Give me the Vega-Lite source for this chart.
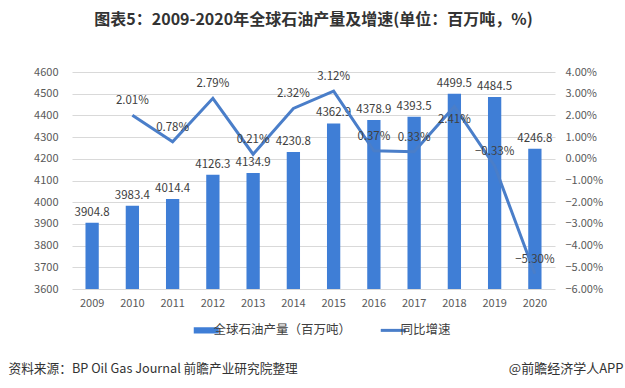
{
  "$schema": "https://vega.github.io/schema/vega-lite/v6.json",
  "width": 483,
  "height": 217,
  "autosize": {"type": "none"},
  "padding": {"left": 72, "top": 72, "right": 70, "bottom": 99},
  "background": "white",
  "title": {
    "text": "图表5：2009-2020年全球石油产量及增速(单位：百万吨，%)",
    "fontSize": 16,
    "fontWeight": "bold",
    "color": "#333333",
    "anchor": "middle",
    "frame": "group",
    "dx": 0,
    "baseline": "middle",
    "offset": 30,
    "font": "Noto Sans CJK SC"
  },
  "config": {
    "view": {"stroke": null},
    "font": "Noto Sans CJK SC",
    "axis": {"labelColor": "#595959", "labelFontSize": 11, "ticks": false, "domain": false}
  },
  "data": {
    "values": [
      {"year": "2009", "production": 3904.8, "growth": null},
      {"year": "2010", "production": 3983.4, "growth": 0.0201},
      {"year": "2011", "production": 4014.4, "growth": 0.0078},
      {"year": "2012", "production": 4126.3, "growth": 0.0279},
      {"year": "2013", "production": 4134.9, "growth": 0.0021},
      {"year": "2014", "production": 4230.8, "growth": 0.0232},
      {"year": "2015", "production": 4362.9, "growth": 0.0312},
      {"year": "2016", "production": 4378.9, "growth": 0.0037},
      {"year": "2017", "production": 4393.5, "growth": 0.0033},
      {"year": "2018", "production": 4499.5, "growth": 0.0241},
      {"year": "2019", "production": 4484.5, "growth": -0.0033},
      {"year": "2020", "production": 4246.8, "growth": -0.053}
    ]
  },
  "encoding": {
    "x": {
      "field": "year",
      "type": "ordinal",
      "scale": {"paddingInner": 0.67, "paddingOuter": 0.335},
      "axis": {"title": null, "labelAngle": 0, "labelPadding": 8, "labelFontSize": 11}
    }
  },
  "layer": [
    {
      "encoding": {
        "y": {
          "field": "production",
          "type": "quantitative",
          "scale": {"domain": [3600, 4600], "nice": false, "zero": false},
          "axis": {
            "orient": "left",
            "format": "d",
            "values": [3600, 3700, 3800, 3900, 4000, 4100, 4200, 4300, 4400, 4500, 4600],
            "grid": true,
            "gridColor": "#d9d9d9",
            "labelPadding": 14,
            "title": "资料来源：BP Oil Gas Journal 前瞻产业研究院整理",
            "titleAngle": 0,
            "titleAlign": "left",
            "titleBaseline": "middle",
            "titleX": -64,
            "titleY": 296,
            "titleFontSize": 12.7,
            "titleFontWeight": "normal",
            "titleColor": "#333333"
          }
        }
      },
      "layer": [
        {
          "mark": {"type": "bar", "color": "#3F7ED6"},
          "encoding": {
            "y2": {"datum": 3600},
            "color": {
              "datum": "全球石油产量（百万吨）",
              "scale": {"domain": ["全球石油产量（百万吨）", "同比增速"], "range": ["#3F7ED6", "#4A7EC9"]},
              "legend": {
                "orient": "none",
                "legendX": 128,
                "legendY": 252,
                "direction": "horizontal",
                "title": null,
                "labelFontSize": 12.5,
                "labelColor": "#404040",
                "columnPadding": 22,
                "labelOffset": 1,
                "symbolSize": 625,
                "encode": {
                  "symbols": {
                    "update": {
                      "shape": {"signal": "datum.value === '同比增速' ? 'M-1,0H1' : 'M-1,-0.25H1V0.25H-1Z'"},
                      "strokeWidth": {"signal": "datum.value === '同比增速' ? 3 : 0"},
                      "fill": {"signal": "datum.value === '同比增速' ? 'transparent' : '#3F7ED6'"},
                      "stroke": {"signal": "datum.value === '同比增速' ? '#4A7EC9' : 'transparent'"},
                      "opacity": {"value": 1},
                      "fillOpacity": {"value": 1}
                    }
                  }
                }
              }
            }
          }
        },
        {
          "mark": {"type": "text", "dy": -10, "fontSize": 11.5, "color": "#404040"},
          "encoding": {"text": {"field": "production", "type": "quantitative", "format": ".1f"}}
        }
      ]
    },
    {
      "encoding": {
        "y": {
          "field": "growth",
          "type": "quantitative",
          "scale": {"domain": [-0.06, 0.04], "nice": false, "zero": false},
          "axis": {
            "orient": "right",
            "format": ".2%",
            "values": [-0.06, -0.05, -0.04, -0.03, -0.02, -0.01, 0, 0.01, 0.02, 0.03, 0.04],
            "grid": false,
            "labelPadding": 10,
            "title": "@前瞻经济学人APP",
            "titleAngle": 0,
            "titleAlign": "right",
            "titleBaseline": "middle",
            "titleX": 68,
            "titleY": 296,
            "titleFontSize": 13,
            "titleFontWeight": "normal",
            "titleColor": "#333333"
          }
        }
      },
      "layer": [
        {
          "transform": [{"filter": "datum.growth != null"}],
          "mark": {"type": "line", "strokeWidth": 3, "color": "#4A7EC9"},
          "encoding": {"color": {"datum": "同比增速"}}
        },
        {
          "transform": [{"filter": "datum.growth != null && datum.year != '2018'"}],
          "mark": {"type": "text", "dy": -14, "fontSize": 11.5, "color": "#404040"},
          "encoding": {"text": {"field": "growth", "type": "quantitative", "format": ".2%"}}
        },
        {
          "transform": [{"filter": "datum.year == '2018'"}],
          "mark": {"type": "text", "dy": 13, "fontSize": 11.5, "color": "#404040"},
          "encoding": {"text": {"field": "growth", "type": "quantitative", "format": ".2%"}}
        }
      ]
    }
  ],
  "resolve": {"scale": {"y": "independent"}}
}
